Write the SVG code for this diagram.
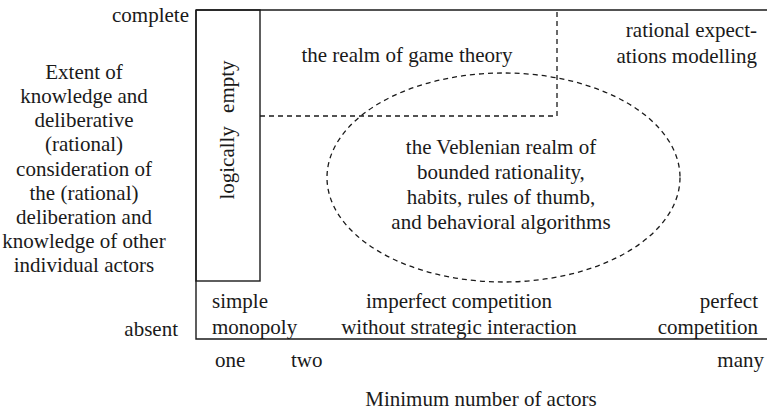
<svg xmlns="http://www.w3.org/2000/svg" width="767" height="415" viewBox="0 0 767 415">
<style>
.t{font-family:'Liberation Serif','DejaVu Serif','Times New Roman',Times,serif;font-size:21px;fill:#1a1a1a}
.m{text-anchor:middle}
.e{text-anchor:end}
.solid{fill:none;stroke:#1a1a1a;stroke-width:1.4}
.dash{fill:none;stroke:#1a1a1a;stroke-width:1.3;stroke-dasharray:5 4}
</style>
<rect width="767" height="415" fill="#fff"/>
<g id="connectors">
<path class="solid" d="M196 10 H767 M196 10 V339 H767"/>
</g>
<g class="t" font-family="Liberation Serif, DejaVu Serif, serif">
<g id="logically-empty">
<rect class="solid" x="196" y="10" width="64" height="271"/>
<text class="m" transform="translate(234,130) rotate(-90)" word-spacing="8">logically empty</text>
</g>
<g id="game-theory">
<path class="dash" d="M260 116 H557 V10"/>
<text class="m" x="407" y="62">the realm of game theory</text>
</g>
<g id="veblenian">
<ellipse class="dash" cx="503.5" cy="177.5" rx="176.5" ry="104.5"/>
<text class="m" x="501" y="154">the Veblenian realm of</text>
<text class="m" x="501" y="179">bounded rationality,</text>
<text class="m" x="501" y="204">habits, rules of thumb,</text>
<text class="m" x="501" y="229">and behavioral algorithms</text>
</g>
<g id="rational-expectations">
<text class="e" x="757" y="37">rational expect-</text>
<text class="e" x="757" y="63">ations modelling</text>
</g>
<g id="y-axis">
<text class="e" x="189" y="22">complete</text>
<text class="e" x="178" y="336">absent</text>
<text class="m" x="84" y="79">Extent of</text>
<text class="m" x="84" y="103">knowledge and</text>
<text class="m" x="84" y="127">deliberative</text>
<text class="m" x="84" y="151">(rational)</text>
<text class="m" x="84" y="176">consideration of</text>
<text class="m" x="84" y="200">the (rational)</text>
<text class="m" x="84" y="224">deliberation and</text>
<text class="m" x="84" y="248">knowledge of other</text>
<text class="m" x="84" y="272">individual actors</text>
</g>
<g id="simple-monopoly">
<text x="212" y="308">simple</text>
<text x="212" y="334">monopoly</text>
</g>
<g id="imperfect-competition">
<text class="m" x="459" y="308">imperfect competition</text>
<text class="m" x="459" y="334">without strategic interaction</text>
</g>
<g id="perfect-competition">
<text class="e" x="758" y="308">perfect</text>
<text class="e" x="758" y="334">competition</text>
</g>
<g id="x-axis">
<text x="215" y="367">one</text>
<text x="291" y="367">two</text>
<text class="e" x="764" y="367">many</text>
<text class="m" x="481" y="406">Minimum number of actors</text>
</g>
</g>
</svg>
